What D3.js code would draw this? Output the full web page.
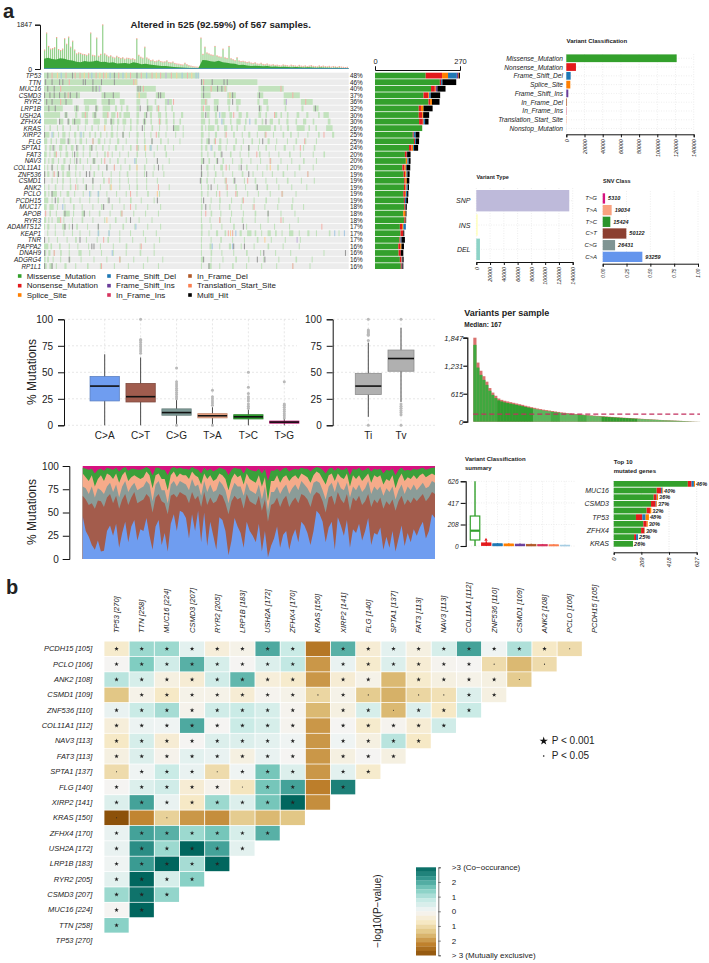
<!DOCTYPE html>
<html lang="en">
<head>
<meta charset="utf-8">
<title>Mutation landscape</title>
<script src="https://d3js.org/d3.v7.min.js"></script>
<style>
  body { margin: 0; background: #fff; }
  svg { display: block; }
  text { font-family: "Liberation Sans", Arial, sans-serif; fill: #222; }
</style>
</head>
<body>
<svg id="fig" width="709" height="963"></svg>
<script>
// ---- panel a: oncoplot data
const genes = ["TP53","TTN","MUC16","CSMD3","RYR2","LRP1B","USH2A","ZFHX4","KRAS","XIRP2","FLG","SPTA1","FAT3","NAV3","COL11A1","ZNF536","CSMD1","ANK2","PCLO","PCDH15","MUC17","APOB","RYR3","ADAMTS12","KEAP1","TNR","PAPPA2","DNAH9","ADGRG4","RP1L1"];
const genePct = [48,46,40,37,36,32,30,30,26,25,25,24,20,20,20,19,19,19,19,19,18,18,18,17,17,17,16,16,16,16];

const mutMissense = [161,206,178,154,170,139,139,140,150,120,124,108,95,98,87,91,93,92,90,92,93,89,93,79,81,78,74,75,79,82];
const mutNonsense = [52,4,12,15,5,7,11,12,0,3,3,8,6,0,7,5,4,5,5,3,3,1,3,7,9,3,6,7,5,3];
const mutSplice   = [19,0,3,3,6,8,3,2,0,0,0,5,0,5,4,4,4,3,3,0,0,7,1,4,0,0,4,0,1,0];
const mutFsDel    = [28,4,0,5,0,0,0,5,0,6,3,3,1,4,2,3,0,4,4,4,1,0,0,8,0,3,0,0,1,1];
const mutFsIns    = [4,0,5,0,0,0,0,0,0,0,0,0,0,0,0,0,0,0,0,0,0,0,0,0,0,0,0,0,1,1];
const mutInFrame  = [3,0,0,0,0,0,0,0,0,0,0,0,0,0,0,0,0,0,0,0,0,0,0,0,0,0,0,0,0,0];
const mutMulti    = [3,44,26,30,24,29,19,11,0,12,10,13,11,6,12,7,8,4,4,6,4,3,2,0,3,11,8,8,4,3];

// mutated stretches per gene: start sample, number of samples, ...
const oncoStretches = [
 [0,289],
 [0,174,292,105],
 [0,107,172,36,292,49,399,47],
 [0,67,107,34,172,19,208,17,292,18,341,16,397,11,446,30],
 [0,53,74,24,107,25,141,9,172,7,191,3,206,3,225,13,292,12,316,9,341,6,357,9,397,4,408,9,446,6,478,22],
 [0,35,56,9,76,8,95,6,109,14,132,4,143,3,153,4,172,5,191,11,209,6,225,3,237,3,292,4,300,9,316,8,343,3,358,4,399,6,414,4,448,3,479,4,501,10],
 [0,30,38,6,58,4,70,12,90,8,109,10,125,8,140,4,148,12,172,5,186,4,197,4,212,6,226,3,240,3,255,4,292,6,303,5,318,4,330,8,345,5,362,6,376,4,399,5,412,3,428,6,440,3,452,3,470,5,488,4,510,3,520,10],
 [0,24,30,6,44,4,52,16,76,6,92,12,112,5,123,8,136,4,146,7,160,3,172,4,184,6,198,3,213,5,226,4,240,3,252,3,292,8,306,3,318,6,332,4,346,3,358,8,374,3,392,4,405,3,420,6,436,3,451,4,468,3,482,6,500,3,528,5],
 [0,2,10,3,24,2,34,3,48,2,62,3,76,2,88,3,100,2,112,2,125,3,136,2,148,2,160,3,172,2,186,2,200,3,214,2,228,2,240,12,258,2,292,4,300,2,305,12,322,4,335,6,348,3,358,3,372,3,398,24,428,4,440,2,452,4,470,15,492,3,505,3,525,12],
 [0,10,16,3,26,2,34,6,46,2,56,4,66,2,72,3,84,3,94,3,104,3,116,2,124,5,135,2,146,3,158,2,172,4,186,2,198,2,212,3,226,2,244,2,258,2,292,5,306,2,318,4,336,2,352,3,368,2,380,4,396,2,410,3,426,2,444,3,458,3,472,2,490,2,510,3,536,4],
 [0,6,12,3,22,2,30,10,46,3,58,2,66,5,78,2,90,3,100,5,112,2,122,2,136,4,152,2,172,3,186,3,200,2,216,3,230,2,252,2,292,3,302,6,316,3,326,4,340,2,356,3,370,2,386,3,400,2,416,4,432,2,452,2,468,3,486,2,506,2],
 [2,3,10,4,18,3,28,6,40,3,50,5,62,2,72,3,84,6,96,2,108,3,120,2,132,4,146,2,160,3,172,5,186,2,196,4,210,2,224,3,240,2,292,3,300,4,312,2,324,6,338,2,352,4,366,2,380,3,398,2,412,3,430,2,446,4,464,2,482,2,502,3],
 [0,5,10,2,18,5,30,2,40,5,52,2,60,4,72,2,84,3,98,2,112,3,126,2,140,2,156,2,172,3,188,2,204,2,226,3,292,3,304,2,316,3,328,2,346,3,364,2,380,2,400,3,418,2,436,2,456,3,476,2,500,2,520,3],
 [0,3,8,2,14,5,26,2,36,4,48,2,56,2,66,3,80,2,90,6,106,2,122,2,136,3,150,2,170,3,190,2,210,2,232,2,292,6,306,3,320,2,332,3,350,2,366,3,384,2,402,2,420,3,440,2,460,2,482,3,506,2],
 [0,2,6,2,14,3,24,2,32,6,46,2,58,3,72,2,86,2,100,3,116,2,130,2,142,2,158,3,172,2,186,3,204,2,220,2,292,2,302,4,316,2,328,5,344,2,362,2,376,3,396,2,414,2,434,3,452,2,474,3,500,2],
 [1,2,6,4,16,2,24,2,34,3,42,7,58,2,66,2,78,2,92,3,108,2,124,2,140,2,154,3,172,2,186,2,202,2,222,2,292,3,304,2,318,3,332,2,350,2,368,3,388,2,406,2,424,2,444,3,466,2,490,2],
 [0,2,14,2,24,2,34,3,48,2,60,2,72,2,90,2,110,3,124,2,140,2,156,2,172,2,190,2,210,2,292,2,302,3,316,2,336,4,352,2,372,2,392,3,412,2,432,2,452,3,478,2,502,2],
 [0,2,8,2,20,3,34,2,48,3,62,2,76,3,90,2,104,2,122,3,140,2,158,2,172,3,190,2,212,2,232,2,292,2,304,3,322,2,338,2,356,3,374,2,394,2,414,3,436,2,460,2,488,2],
 [0,4,8,2,14,10,30,2,42,5,56,2,72,2,86,2,100,3,116,2,134,2,152,2,172,2,192,3,214,2,292,3,304,2,320,2,340,2,358,3,378,2,398,2,420,2,442,3,468,2],
 [0,8,14,2,24,4,36,2,48,3,66,2,84,2,100,2,118,2,140,2,160,3,180,2,204,2,292,2,310,2,326,3,348,2,368,2,390,2,412,3,436,2,462,2],
 [0,5,10,8,24,2,38,2,54,3,70,2,90,2,106,3,126,2,148,2,170,2,192,2,216,2,292,3,308,2,326,2,344,3,366,2,388,2,410,2,434,2,460,3,482,2],
 [2,2,10,3,22,2,36,12,54,2,70,6,84,2,102,3,122,2,142,4,166,2,188,2,212,2,292,2,310,3,328,2,348,2,370,2,392,3,416,2,440,2,466,2],
 [0,4,8,2,14,2,24,6,36,2,52,2,70,3,90,2,112,2,132,3,152,2,176,2,200,2,292,2,308,2,326,3,346,2,368,3,392,2,416,2,444,2,472,2],
 [0,2,6,4,20,2,34,6,46,2,60,3,80,2,100,2,122,2,146,3,168,2,192,2,216,2,292,3,310,2,330,2,352,3,376,2,402,2,428,2,456,2],
 [6,2,20,2,36,2,52,2,66,2,84,2,100,3,120,2,140,2,160,2,184,2,208,2,292,3,306,2,320,4,336,3,350,2,364,4,378,8,392,3,404,2,416,6,430,3,442,2,456,8,474,2,490,4,506,2,530,3,548,2],
 [0,2,8,2,24,2,42,2,58,3,78,2,98,2,118,3,140,2,164,2,188,2,214,2,292,2,310,2,328,3,350,2,372,2,396,3,422,2,448,2,476,2],
 [0,8,12,3,28,3,46,2,62,2,82,2,104,2,128,2,152,3,178,2,204,2,292,2,308,4,326,2,344,4,366,2,390,2,416,3,444,2,474,2],
 [0,4,8,4,18,2,30,3,46,2,64,6,84,2,106,2,128,2,152,2,178,3,204,2,292,2,310,3,330,2,352,2,376,3,402,2,430,2,458,2,520,2],
 [0,3,6,3,16,2,30,2,46,3,68,2,92,2,116,2,140,3,166,2,192,2,220,2,292,4,310,2,332,2,356,3,380,2,408,2,436,2,468,3,498,2],
 [0,5,10,6,22,2,38,4,58,2,80,3,104,2,130,2,156,2,184,2,212,2,292,2,306,6,326,2,350,3,376,2,404,2,432,2,462,2,494,2]
];
// coloured stripes: row, sample, class (0 nonsense, 1 splice, 2 fs del, 3 fs ins, 4 multi hit)
const oncoAccents = [[0,6,4],[0,14,0],[0,24,1],[0,31,2],[0,40,0],[0,52,4],[0,57,0],[0,66,0],[0,74,1],[0,82,0],[0,88,2],[0,96,0],[0,103,1],[0,110,0],[0,115,1],[0,122,2],[0,130,4],[0,138,0],[0,146,2],[0,152,1],[0,160,0],[0,172,4],[0,180,0],[0,190,2],[0,200,0],[0,208,1],[0,216,0],[0,226,3],[0,236,0],[0,246,1],[0,256,2],[0,266,0],[0,274,1],[0,282,2],[0,286,2],
[1,2,4],[1,14,4],[1,28,4],[1,34,4],[1,46,0],[1,72,4],[1,76,4],[1,90,4],[1,106,4],[1,130,4],[1,166,0],[1,170,1],[1,292,4],[1,296,0],[1,312,4],[1,334,4],[1,340,4],
[2,6,4],[2,18,4],[2,30,0],[2,90,4],[2,96,4],[2,102,3],[2,174,4],[2,178,4],[2,184,0],[2,296,4],[2,310,0],[2,322,4],[2,330,4],[2,336,0],[2,440,0],
[3,0,4],[3,10,4],[3,18,4],[3,28,4],[3,38,4],[3,44,0],[3,48,4],[3,60,4],[3,112,4],[3,128,4],[3,176,1],[3,212,4],[3,216,4],[3,296,4],[3,345,1],[3,350,4],[3,400,4],[3,462,0],
[4,4,4],[4,14,4],[4,30,0],[4,40,4],[4,120,4],[4,230,3],[4,240,0],[4,300,0],[4,350,4],[4,450,3],[4,486,0],
[5,8,4],[5,20,4],[5,60,4],[5,96,4],[5,178,4],[5,192,4],[5,212,0],[5,296,0],[5,322,4],[5,400,4],[5,504,4],
[6,40,4],[6,76,0],[6,94,4],[6,118,0],[6,136,0],[6,190,4],[6,300,4],[6,326,2],[6,352,0],[6,428,0],
[7,28,4],[7,44,4],[7,56,4],[7,124,4],[7,186,4],[7,214,0],[7,330,2],[7,382,2],[7,412,4],
[8,112,1],[8,182,4],[8,240,4],
[9,0,4],[9,14,2],[9,68,2],[9,146,4],[9,208,0],[9,338,0],[9,412,0],[9,520,0],
[10,44,4],[10,90,0],[10,200,4],[10,306,4],[10,318,0],[10,406,4],[10,484,0],
[11,16,4],[11,60,4],[11,88,4],[11,172,0],[11,188,1],[11,198,2],[11,310,2],[11,380,4],[11,476,0],
[12,22,0],[12,56,4],[12,118,0],[12,330,4],[12,395,0],
[13,60,4],[13,92,4],[13,112,0],[13,168,2],[13,210,4],[13,296,4],[13,322,4],[13,420,0],
[14,14,4],[14,46,4],[14,116,4],[14,130,0],[14,172,1],[14,212,4],[14,292,4],[14,338,0],[14,366,4],[14,420,1],
[15,0,4],[15,18,0],[15,26,4],[15,78,4],[15,84,4],[15,190,4],[15,292,4],[15,380,4],[15,490,0],
[16,0,4],[16,90,4],[16,120,0],[16,290,4],[16,338,0],[16,354,4],[16,378,0],
[17,58,0],[17,78,4],[17,124,1],[17,212,0],[17,310,4],[17,340,0],[17,396,4],
[18,14,4],[18,84,2],[18,100,2],[18,160,0],[18,210,1],[18,326,0],[18,356,0],[18,442,0],
[19,20,4],[19,120,4],[19,210,4],[19,296,4],[19,370,0],
[20,34,2],[20,110,4],[20,160,0],[20,300,4],[20,390,0],
[21,2,0],[21,38,4],[21,74,4],[21,144,0],[21,300,0],[21,416,4],
[22,30,0],[22,116,1],[22,160,4],[22,326,0],[22,440,0],
[23,38,4],[23,52,4],[23,100,4],[23,170,2],[23,370,4],[23,516,0],
[24,100,2],[24,120,2],[24,342,0],[24,346,1],[24,350,0],[24,356,2],[24,540,2],[24,558,2],
[25,0,4],[25,66,4],[25,110,0],[25,410,1],[25,470,3],
[26,88,4],[26,92,4],[26,180,0],[26,312,2],[26,350,2],[26,352,4],[26,372,4],
[27,0,4],[27,18,0],[27,126,2],[27,408,4],[27,560,4],
[28,46,4],[28,140,0],[28,296,4],[28,396,4],[28,410,4],
[29,0,4],[29,14,4],[29,106,0],[29,306,4],[29,462,0]];

// top bar of the oncoplot
const topPeak = [780,1490,930,820,840,880,1300,800,760,820,1250,1020,1320,900,1150,780,620,660,640,600,590,560,620,1490,560,540,1280,520,600,1830,620,560,500,540,480,450,520,470,430,460,400,440,430,400,420,380,1250,560,480,440,900,450,400,340,360,300,320,350,300,280,290,330,260,250,280,220,200,190,170,160,230,170,130,110,90,80,70,60,1280,600,900,660,620,580,560,930,540,500,480,820,460,430,930,420,380,340,460,330,300,310,290,260,280,240,220,250,200,190,230,180,170,200,160,150,170,140,150,130,120,160,140,130,110,150,130,120,100,140,110,100,120,90,110,130,100,90,80,120,90,110,90,80,100,70,90,80,60,90,70,60,50,60];
const topBody = [430,470,420,400,450,430,380,350,300,280,330,300,310,350,290,300,260,280,230,240,250,220,280,250,200,220,190,170,150,130,120,100,80,70,60,50,45,40,35,380,360,320,300,340,280,260,230,220,170,180,150,130,140,120,110,120,90,100,85,90,80,75,85,70,65,75,60,55,60,55,50,45,50,40,35,30];

const legendNames = [["Missense_Mutation","Nonsense_Mutation","Splice_Site"],["Frame_Shift_Del","Frame_Shift_Ins","In_Frame_Ins"],["In_Frame_Del","Translation_Start_Site","Multi_Hit"]];
const legendColors = [["#33a02c","#e31a1c","#ff7f00"],["#1f78b4","#6a3d9a","#d6335e"],["#b15928","#fb7f50","#000000"]];

// summary bars
const vcNames = ["Missense_Mutation","Nonsense_Mutation","Frame_Shift_Del","Splice_Site","Frame_Shift_Ins","In_Frame_Del","In_Frame_Ins","Translation_Start_Site","Nonstop_Mutation"];
const vcValues = [121300,10600,4800,4400,2200,800,400,300,150];
const vcColors = ["#33a02c","#e31a1c","#1f78b4","#ff7f00","#6a3d9a","#b15928","#d6335e","#fb7f50","#a6cee3"];
const vcTicks = [0,20000,40000,60000,80000,100000,120000,140000];

const vtNames = ["SNP","INS","DEL"];
const vtValues = [135000,1900,5300];
const vtColors = ["#bebada","#ffffb3","#8dd3c7"];

const snvNames = ["T>G","T>A","T>C","C>T","C>G","C>A"];
const snvFractions = [0.025,0.094,0.08,0.248,0.13,0.416];
const snvCounts = [5310,19034,15424,50122,26431,93259];
const snvColors = ["#d6127f","#f9a27f","#2a942a","#8c3f30","#7f9493","#6495ed"];

// boxplots
const boxNames = ["C>A","C>T","C>G","T>A","T>C","T>G"];
const boxColors = ["#6f9df0","#a05c4e","#7f9c98","#f0a888","#2e9e2e","#d6127f"];
const boxQ1 = [23,22,9.5,7,6,2];
const boxMedian = [37,27,12,9,8,3];
const boxQ3 = [46,39.5,15.5,11,10,4];
const boxLow = [0,0,1,0,0,0];
const boxHigh = [67,64,24,17,15,6];
const boxOutliers = [[],[68,70,72,74,76,78,80,81,100],[0,25,27,29,31,33,35,37,39,41,54],[0,19,21,23,25,27,33],[16,18,20,23,25,27,30,36,50],[7,9,11,13,15,17,19,20,41]];

const tiNames = ["Ti","Tv"];
const tiQ1 = [29,51];
const tiMedian = [37,63];
const tiQ3 = [49,71];
const tiLow = [8,22];
const tiHigh = [78,92];
const tiOutliers = [[0,80,85,86,87,88,89,90,100],[0,10,12,14,16,18,20,100]];

// per sample stacked spectrum, running tops of each layer
const caTop = [46,30,24,15,10,20,8,9,30,36,25,38,12,28,40,18,35,42,20,32,30,44,25,10,35,42,15,28,8,38,48,30,52,50,44,22,48,30,52,18,50,14,40,25,10,45,42,30,4,20,44,35,28,12,40,30,25,18,38,8,30,2,14,22,35,12,26,30,10,24,32,18,40,36,28,15,30,52,48,40,18,34,40,10,45,36,25,42,12,32,28,38,20,30,44,15,28,26,34,10,24,12,30,8,22,36,14,28,18,32,25,34,40,22,30,48,44];
const ctTop = [68,64,58,60,54,63,62,56,66,70,60,68,54,64,70,58,66,72,60,62,64,70,66,50,66,70,62,60,48,68,70,66,72,70,68,60,72,64,68,56,72,58,66,60,62,70,68,60,48,62,68,64,66,54,70,62,60,58,68,52,64,40,58,60,66,56,64,68,56,62,66,60,70,68,64,56,68,72,70,62,50,66,68,58,72,64,60,70,52,66,62,68,58,62,70,56,64,60,66,54,62,58,64,52,62,68,58,64,60,66,62,66,70,62,66,72,70];
const cgTop = [78,76,70,78,66,76,74,70,78,82,72,80,66,78,84,72,78,82,74,76,78,84,80,62,80,84,74,74,60,80,84,78,84,82,80,74,86,78,80,68,84,72,80,72,74,84,80,74,60,74,82,78,78,68,82,74,72,70,80,64,78,52,72,72,78,70,76,80,70,76,80,74,84,80,76,70,82,84,82,74,64,78,82,72,84,76,74,82,66,78,74,80,72,76,84,70,78,74,78,68,76,72,78,64,74,80,70,78,74,80,74,78,82,76,78,84,82];
const taTop = [92,88,84,90,78,86,90,84,92,90,86,92,82,90,94,84,88,90,88,86,88,94,90,76,90,92,86,86,74,90,94,88,92,90,90,86,94,90,88,80,92,86,90,84,86,92,90,86,74,86,92,88,90,80,92,86,84,82,90,78,88,62,84,84,90,82,88,90,84,88,90,86,92,90,88,82,90,94,92,86,80,90,92,84,92,88,86,92,78,90,86,90,84,88,92,82,90,88,90,80,86,84,90,76,86,92,84,88,86,90,86,90,92,88,90,92,90];
const tcTop = [98,97,96,97,92,96,97,95,98,97,96,98,94,97,99,95,97,97,96,96,97,99,97,90,98,98,96,96,90,97,99,97,98,97,97,96,99,97,96,92,98,95,97,94,96,98,97,96,90,96,98,97,97,92,98,96,95,94,97,92,97,84,95,95,97,94,97,98,94,96,97,96,98,97,97,94,97,99,98,96,92,97,98,95,98,96,96,98,90,97,96,98,95,96,98,94,97,96,97,92,96,95,97,90,96,98,95,96,95,97,96,97,98,96,97,98,98];

// variants per sample, sorted
const variantTotal = [1847,1300,1120,1000,880,740,640,570,510,480,460,445,430,415,400,385,370,350,335,320,305,290,278,265,255,245,235,225,215,205,198,190,182,176,170,165,158,152,146,140,135,130,125,120,115,110,105,100,96,92,88,84,80,76,72,68,64,60,56,52,48,44,40,36,33,30,27,24,21,18,15,12,9,6,4,2];
const variantMissense = [1690,1190,1030,920,810,680,590,520,470,445,425,410,398,384,370,356,342,324,310,296,282,268,257,245,236,227,217,208,199,190,183,176,168,163,157,153,146,141,135,130,125,120,116,111,106,102,97,93,89,85,81,78,74,70,67,63,59,55,52,48,44,41,37,33,30,28,25,22,19,17,14,11,8,5,3,2];
const variantTicks = [0,615,1231,1847];
const medianVariants = 167;

// variant classification summary
const vsQ1 = [58,5,2,2,2,1,1,1,1];
const vsMedian = [148,14,8,7,6,6,5,5,4];
const vsQ3 = [290,30,22,20,18,16,14,12,8];
const vsHigh = [626,45,28,26,24,22,20,18,12];
const vsTicks = [0,208,417,626];
const vsColors = ["#33a02c","#e31a1c","#1f78b4","#ff7f00","#6a3d9a","#b15928","#d6335e","#fb7f50","#a6cee3"];

// top 10 genes: missense, nonsense, blue, orange
const top10Names = ["TTN","MUC16","RYR2","CSMD3","LRP1B","TP53","USH2A","ZFHX4","XIRP2","KRAS"];
const top10Shown = [false,true,false,true,false,true,false,true,false,true];
const top10Pct = ["46%","40%","36%","37%","32%","48%","30%","30%","25%","26%"];
const top10Missense = [560,325,302,282,249,168,224,207,154,146];
const top10Nonsense = [28,33,22,35,25,48,25,23,15,0];
const top10Blue = [18,10,3,5,0,25,0,3,15,0];
const top10Orange = [8,5,8,5,10,25,8,3,0,0];
const top10Ticks = [0,209,418,627];

// ---- panel b: somatic interactions
const heatCols = ["TP53 [270]","TTN [258]","MUC16 [224]","CSMD3 [207]","RYR2 [205]","LRP1B [183]","USH2A [172]","ZFHX4 [170]","KRAS [150]","XIRP2 [141]","FLG [140]","SPTA1 [137]","FAT3 [113]","NAV3 [113]","COL11A1 [112]","ZNF536 [110]","CSMD1 [109]","ANK2 [108]","PCLO [106]","PCDH15 [105]"];
const heatRows = ["PCDH15 [105]","PCLO [106]","ANK2 [108]","CSMD1 [109]","ZNF536 [110]","COL11A1 [112]","NAV3 [113]","FAT3 [113]","SPTA1 [137]","FLG [140]","XIRP2 [141]","KRAS [150]","ZFHX4 [170]","USH2A [172]","LRP1B [183]","RYR2 [205]","CSMD3 [207]","MUC16 [224]","TTN [258]","TP53 [270]"];
const heatValues = [
 [-.6,1.2,1.2,.3,-.4,-.2,2,.7,-2.4,1.9,-.5,.3,-.3,.5,2.1,.1,1,-.7,-1],
 [-.05,1.5,.6,1.9,.5,-.05,.4,.8,-2,.2,-.6,.4,-.5,-.1,-.05,-1,-1.6,-1],
 [.9,.5,-.3,-.5,.6,1.8,-.4,-.6,-2,-.5,-.2,-1.6,-.6,-.3,-.2,-.3,-1.3],
 [-1.4,-.2,-.7,-.2,-.2,-.5,-.1,-.2,-1.1,-.2,-1.3,-1.7,-1.1,-.9,.4,-.3],
 [.2,.7,1.1,-.15,.6,.7,.5,-.1,-1.6,-.3,.5,-1.6,.4,-.7,.7],
 [-.4,.15,.1,2,-.05,.7,.5,-.1,-2,-.05,-.6,-.1,-.5,.6],
 [-.7,.5,-.5,-.05,.4,.4,.3,.1,-2,.1,-.3,.9,-.7],
 [-.3,.4,-.15,.3,.2,-.3,.2,-.05,-2,-.3,-.05,-.3],
 [-1,.1,.7,.2,-1,.1,1.6,.4,-2,.3,-.6],
 [-.05,.4,.6,-.5,-.15,-.8,1.6,2.1,-2.3,2.6],
 [.4,2.1,.2,-.7,1.2,.4,1.6,3.2,-2.1],
 [-3.2,-2.2,-1.2,-2,-2.1,-1.3,-1.6,-1.4],
 [.2,2.1,1.9,1.2,1.6,.5,1.9],
 [.2,2.4,1.2,3,2.1,.3],
 [.1,2.2,3,1.1,3],
 [.3,3,.5,1.4],
 [1.2,2.8,1.3],
 [-.05,3],
 [1.4],
 []
];
// * = P < 0.001, . = P < 0.05, blank = neither
const heatSig = [
 "******** *********.",
 "******** ******. .",
 "******** ** ****.",
 " *******.*. ..**",
 "******** **.***",
 "******** *****",
 "******** ****",
 "******** ***",
 ".***.*** **",
 "*****.** *",
 "******** ",
 ". .     ",
 "*******",
 "******",
 "*****",
 "****",
 "***",
 "**",
 "*",
 ""
];
const heatStops = [-3,-2.25,-1.5,-.75,0,.75,1.5,2.25,3];
const heatStopColors = ["#8c510a","#bf812d","#dfc27d","#f6e8c3","#f5f5f5","#c7eae5","#80cdc1","#35978f","#01665e"];
const cbarTicks = [3,2,1,0,-1,-2,-3];
const cbarLabels = [">3 (Co\u2212occurance)","2","1","0","1","2","> 3 (Mutually exclusive)"];
const cbarLevels = [3,2.7,2.4,2.1,1.8,1.5,1.2,.9,.6,.3,0,-.3,-.6,-.9,-1.2,-1.5,-1.8,-2.1,-2.4,-2.7];

// ---- drawing
const svg = d3.select("#fig");

function label(x, y, txt, size, opts) {
    opts = opts || {};
    return svg.append("text").attr("x", x).attr("y", y).text(txt)
        .style("font-size", size + "px")
        .style("font-weight", opts.bold ? "bold" : null)
        .style("font-style", opts.italic ? "italic" : null)
        .attr("text-anchor", opts.anchor || "start")
        .attr("dominant-baseline", "central");
}
function cleanAxis(g, size, width, italic) {
    g.selectAll("path.domain").attr("stroke", "#111").attr("stroke-width", width);
    g.selectAll(".tick line").attr("stroke", "#111").attr("stroke-width", width);
    g.selectAll("text").style("font-size", size + "px").style("font-family", '"Liberation Sans", Arial, sans-serif')
        .style("font-style", italic ? "italic" : null).attr("fill", "#222");
}
function rotateTicks(g) {
    g.selectAll("text").attr("transform", "rotate(-90)").attr("text-anchor", "end")
        .attr("x", -5).attr("y", 0).attr("dy", "0.32em");
}

label(3, 10.6, "a", 20, {bold: true});
label(6, 586.6, "b", 20, {bold: true});
label(130.5, 24, "Altered in 525 (92.59%) of 567 samples.", 9.7, {bold: true});

// top bar
const topX = d3.scaleBand().domain(d3.range(topPeak.length)).range([44, 348.7]);
const topBX = d3.scalePoint().domain(d3.range(topBody.length)).range([44, 348.7]);
const topY = d3.scaleLinear().domain([0, 1847]).range([69, 24.7]);
svg.append("g").selectAll("rect").data(topPeak).enter().append("rect")
    .attr("x", (d, i) => topX(i)).attr("width", topX.bandwidth() * .6)
    .attr("y", d => topY(d)).attr("height", d => topY(0) - topY(d)).attr("fill", "#93d08b");
svg.append("g").selectAll("rect").data(topPeak).enter().append("rect")
    .attr("x", (d, i) => topX(i)).attr("width", topX.bandwidth() * .6)
    .attr("y", d => topY(d) - .8).attr("height", 1.1).attr("fill", "#f4a08c");
svg.append("path").datum(topBody)
    .attr("d", d3.area().x((d, i) => topBX(i)).y0(topY(0)).y1(d => topY(d)))
    .attr("fill", "#3aa53a");
svg.append("rect").attr("x", 44).attr("width", 304.7).attr("y", 68.2).attr("height", .8).attr("fill", "#4f8fc0");
svg.append("g").attr("transform", "translate(40,0)")
    .call(d3.axisLeft(topY).tickValues([0, 1847]).tickSize(5).tickFormat(d3.format("d")))
    .call(cleanAxis, 6.9, 1, false);

// oncoplot
const onX = d3.scaleLinear().domain([0, 567]).range([44, 348.7]);
const onY = d3.scaleBand().domain(genes).range([72.7, 269]).paddingInner(.12);
const accentCols = ["#f4b3ac", "#fbd09c", "#a7c8e2", "#c4b2dc", "#9a9a9a"];
const onco = svg.append("g");
genes.forEach((g, r) => {
    onco.append("rect").attr("x", onX(0)).attr("width", onX(567) - onX(0)).attr("y", onY(g)).attr("height", onY.bandwidth()).attr("fill", "#ececec");
    const st = oncoStretches[r];
    for (let i = 0; i < st.length; i += 2) {
        onco.append("rect").attr("x", onX(st[i])).attr("width", onX(st[i + 1]) - onX(0))
            .attr("y", onY(g)).attr("height", onY.bandwidth()).attr("fill", "#c2e2bd");
    }
    label(41, onY(g) + onY.bandwidth() / 2, g, 6.4, {italic: true, anchor: "end"});
    label(350, onY(g) + onY.bandwidth() / 2, genePct[r] + "%", 6.4);
});
onco.selectAll("rect.acc").data(oncoAccents).enter().append("rect").attr("class", "acc")
    .attr("x", d => onX(d[1])).attr("width", d => onX(2) - onX(0))
    .attr("y", d => onY(genes[d[0]])).attr("height", onY.bandwidth())
    .attr("fill", d => accentCols[d[2]]);

// gene stack on the right
const stackKeys = ["missense","nonsense","splice","fsdel","fsins","inframe","multi"];
const stackCols = ["#33a02c","#e31a1c","#ff7f00","#1f78b4","#6a3d9a","#b15928","#000000"];
const stackTable = genes.map((g, i) => ({gene: g, missense: mutMissense[i], nonsense: mutNonsense[i], splice: mutSplice[i], fsdel: mutFsDel[i], fsins: mutFsIns[i], inframe: mutInFrame[i], multi: mutMulti[i]}));
const geneX = d3.scaleLinear().domain([0, 270]).range([375, 460]);
svg.append("g").selectAll("g").data(d3.stack().keys(stackKeys)(stackTable)).enter().append("g")
    .attr("fill", (d, i) => stackCols[i])
    .selectAll("rect").data(d => d).enter().append("rect")
    .attr("x", d => geneX(d[0])).attr("width", d => geneX(d[1]) - geneX(d[0]))
    .attr("y", d => onY(d.data.gene)).attr("height", onY.bandwidth());
svg.append("g").attr("transform", "translate(0,70)")
    .call(d3.axisTop(geneX).tickValues([0, 270]).tickSize(3.5).tickPadding(3))
    .call(cleanAxis, 7.5, 1, false);

// oncoplot legend
legendNames.forEach((col, c) => col.forEach((n, r) => {
    const sx = [19.7, 109, 190][c], sy = [276, 285.7, 295][r];
    svg.append("rect").attr("x", sx - 1.8).attr("y", sy - 1.8).attr("width", 3.6).attr("height", 3.6).attr("fill", legendColors[c][r]);
    label(sx + 7, sy, n, 8);
}));

// variant classification
label(566.5, 40.5, "Variant Classification", 6, {bold: true});
const vcX = d3.scaleLinear().domain([0, 140000]).range([566.3, 693.7]);
const vcY = d3.scaleBand().domain(vcNames).range([54.4, 132.4]).paddingInner(.12);
vcTicks.forEach(t => svg.append("line").attr("x1", vcX(t)).attr("x2", vcX(t)).attr("y1", 54).attr("y2", 134).attr("stroke", "#ddd").attr("stroke-width", .5).attr("stroke-dasharray", "1 1.5"));
vcNames.forEach(n => svg.append("line").attr("x1", 566).attr("x2", 693.7).attr("y1", vcY(n) + vcY.bandwidth() / 2).attr("y2", vcY(n) + vcY.bandwidth() / 2).attr("stroke", "#ddd").attr("stroke-width", .5).attr("stroke-dasharray", "1 1.5"));
svg.append("g").selectAll("rect").data(vcValues).enter().append("rect")
    .attr("x", vcX(0)).attr("y", (d, i) => vcY(vcNames[i])).attr("height", vcY.bandwidth())
    .attr("width", d => vcX(d) - vcX(0)).attr("fill", (d, i) => vcColors[i]);
vcNames.forEach(n => label(563, vcY(n) + vcY.bandwidth() / 2, n, 6.6, {italic: true, anchor: "end"}));
svg.append("g").attr("transform", "translate(0,134.3)")
    .call(d3.axisBottom(vcX).tickValues(vcTicks).tickSize(3).tickFormat(d3.format("d")))
    .call(cleanAxis, 5.3, 1, true).call(rotateTicks);

// variant type
label(476.5, 177, "Variant Type", 5.5, {bold: true});
const vtX = d3.scaleLinear().domain([0, 140000]).range([476.3, 572.7]);
const vtY = d3.scaleBand().domain(vtNames).range([190, 260]).paddingInner(.12);
vcTicks.forEach(t => svg.append("line").attr("x1", vtX(t)).attr("x2", vtX(t)).attr("y1", 188).attr("y2", 262).attr("stroke", "#ddd").attr("stroke-width", .5).attr("stroke-dasharray", "1 1.5"));
vtNames.forEach(n => svg.append("line").attr("x1", 476).attr("x2", 572.7).attr("y1", vtY(n) + vtY.bandwidth() / 2).attr("y2", vtY(n) + vtY.bandwidth() / 2).attr("stroke", "#ddd").attr("stroke-width", .5).attr("stroke-dasharray", "1 1.5"));
svg.append("g").selectAll("rect").data(vtValues).enter().append("rect")
    .attr("x", vtX(0)).attr("y", (d, i) => vtY(vtNames[i])).attr("height", vtY.bandwidth())
    .attr("width", d => vtX(d) - vtX(0)).attr("fill", (d, i) => vtColors[i]);
vtNames.forEach(n => label(470.5, vtY(n) + vtY.bandwidth() / 2, n, 7, {italic: true, anchor: "end"}));
svg.append("g").attr("transform", "translate(0,262)")
    .call(d3.axisBottom(vtX).tickValues(vcTicks).tickSize(3).tickFormat(d3.format("d")))
    .call(cleanAxis, 5.3, 1, true).call(rotateTicks);

// snv class
label(603, 181, "SNV Class", 5.5, {bold: true});
const snvX = d3.scaleLinear().domain([0, 1]).range([602.7, 698]);
const snvY = d3.scaleBand().domain(snvNames).range([193.3, 262]).paddingInner(.12);
[0, .25, .5, .75, 1].forEach(t => svg.append("line").attr("x1", snvX(t)).attr("x2", snvX(t)).attr("y1", 191).attr("y2", 263.7).attr("stroke", "#ddd").attr("stroke-width", .5).attr("stroke-dasharray", "1 1.5"));
svg.append("g").selectAll("rect").data(snvFractions).enter().append("rect")
    .attr("x", snvX(0)).attr("y", (d, i) => snvY(snvNames[i])).attr("height", snvY.bandwidth())
    .attr("width", d => snvX(d) - snvX(0)).attr("fill", (d, i) => snvColors[i]);
snvNames.forEach((n, i) => {
    const cy = snvY(n) + snvY.bandwidth() / 2;
    label(597, cy, n, 6, {italic: true, anchor: "end"});
    label(snvX(snvFractions[i]) + 3, cy, snvCounts[i], 5.5, {italic: true, bold: true});
});
svg.append("g").attr("transform", "translate(0,263.7)")
    .call(d3.axisBottom(snvX).tickValues([0, .25, .5, .75, 1]).tickSize(3).tickFormat(d3.format(".2f")))
    .call(cleanAxis, 4.6, 1, true).call(rotateTicks);

// boxplot helper
function boxes(names, q1, med, q3, lo, hi, outs, colors, xs, bw, yScale) {
    names.forEach((n, i) => {
        const x = xs(n);
        svg.append("line").attr("x1", x).attr("x2", x).attr("y1", yScale(lo[i])).attr("y2", yScale(hi[i])).attr("stroke", "#4a4a4a").attr("stroke-width", 1);
        svg.append("g").selectAll("circle").data(outs[i]).enter().append("circle")
            .attr("cx", x).attr("cy", d => yScale(d)).attr("r", 1.5).attr("fill", "#b9b9b9");
        svg.append("rect").attr("x", x - bw / 2).attr("width", bw).attr("y", yScale(q3[i])).attr("height", yScale(q1[i]) - yScale(q3[i]))
            .attr("fill", colors[i]).attr("stroke", d3.color(colors[i]).darker(.6)).attr("stroke-width", .8);
        svg.append("line").attr("x1", x - bw / 2).attr("x2", x + bw / 2).attr("y1", yScale(med[i])).attr("y2", yScale(med[i])).attr("stroke", "#111").attr("stroke-width", 1.6);
        label(x, 435.8, n, 10, {anchor: "middle"});
    });
}
const boxY = d3.scaleLinear().domain([0, 100]).range([425.3, 319.3]);
const boxX = d3.scalePoint().domain(boxNames).range([104.7, 284.3]);
const tiX = d3.scalePoint().domain(tiNames).range([368.3, 401]);
[[64, 297, boxNames, boxX], [333, 437, tiNames, tiX]].forEach(p => {
    [0, 25, 50, 75, 100].forEach(t => svg.append("line").attr("x1", p[0]).attr("x2", p[1]).attr("y1", boxY(t)).attr("y2", boxY(t)).attr("stroke", "#ddd").attr("stroke-dasharray", "2 2").attr("stroke-width", .7));
    p[2].forEach(n => svg.append("line").attr("x1", p[3](n)).attr("x2", p[3](n)).attr("y1", 319.3).attr("y2", 425.3).attr("stroke", "#ddd").attr("stroke-dasharray", "2 2").attr("stroke-width", .7));
});
boxes(boxNames, boxQ1, boxMedian, boxQ3, boxLow, boxHigh, boxOutliers, boxColors, boxX, 29.3, boxY);
boxes(tiNames, tiQ1, tiMedian, tiQ3, tiLow, tiHigh, tiOutliers, ["#b0b0b0", "#b0b0b0"], tiX, 26, boxY);
svg.append("g").attr("transform", "translate(64,0)")
    .call(d3.axisLeft(boxY).tickValues([0, 25, 50, 75, 100]).tickSize(6).tickPadding(5)).call(cleanAxis, 10, 1, false);
svg.append("g").attr("transform", "translate(332.7,0)")
    .call(d3.axisLeft(boxY).tickValues([0, 25, 50, 75, 100]).tickSize(6).tickPadding(5)).call(cleanAxis, 10, 1, false);
label(0, 0, "% Mutations", 12, {anchor: "middle"}).attr("x", null).attr("y", null).attr("transform", "translate(32,372) rotate(-90)");

// per sample spectrum, drawn back to front
const specY = d3.scaleLinear().domain([0, 100]).range([559, 466]);
const specX = d3.scalePoint().domain(d3.range(caTop.length)).range([82.7, 435]);
svg.append("rect").attr("x", 82.7).attr("width", 352.3).attr("y", specY(100)).attr("height", specY(0) - specY(100)).attr("fill", "#d6127f");
[[tcTop, "#3aa03a"], [taTop, "#f6ab8a"], [cgTop, "#8b9c98"], [ctTop, "#a35c4c"], [caTop, "#6f9df0"]].forEach(l => {
    svg.append("path").datum(l[0]).attr("fill", l[1])
        .attr("d", d3.area().x((d, i) => specX(i)).y0(specY(0)).y1(d => specY(d)));
});
svg.append("g").attr("transform", "translate(69.3,0)")
    .call(d3.axisLeft(specY).tickValues([0, 25, 50, 75, 100]).tickSize(6.5).tickPadding(4)).call(cleanAxis, 10, 1, false);
label(0, 0, "% Mutations", 12, {anchor: "middle"}).attr("x", null).attr("y", null).attr("transform", "translate(32,512) rotate(-90)");

// variants per sample
label(464.3, 313, "Variants per sample", 9, {bold: true});
label(464.3, 324.5, "Median: 167", 6.5, {bold: true});
const vpX = d3.scaleBand().domain(d3.range(variantTotal.length)).range([473.3, 700]);
const vpY = d3.scaleLinear().domain([0, 1847]).range([421.7, 337.7]);
const vpShade = i => i < 8 ? "#3fa83f" : i < 20 ? "#2f9e2f" : i < 26 ? "#5cb55c" : i < 29 ? "#45ab45" : i < 35 ? "#62b862" : i < 38 ? "#45ab45" : i < 43 ? "#62b862" : i < 55 ? "#2f9e2f" : "#66ba66";
svg.append("g").attr("fill", "#d9726e").selectAll("rect").data(variantTotal).enter().append("rect")
    .attr("x", (d, i) => vpX(i)).attr("width", vpX.bandwidth() + .2).attr("y", d => vpY(d)).attr("height", d => vpY(0) - vpY(d));
svg.append("g").selectAll("rect").data(variantMissense).enter().append("rect")
    .attr("x", (d, i) => vpX(i)).attr("width", vpX.bandwidth() + .2).attr("y", d => vpY(d)).attr("height", d => vpY(0) - vpY(d))
    .attr("fill", (d, i) => vpShade(i));
svg.append("line").attr("x1", 473.3).attr("x2", 700).attr("y1", vpY(medianVariants)).attr("y2", vpY(medianVariants))
    .attr("stroke", "#c2315f").attr("stroke-width", 1.2).attr("stroke-dasharray", "5 3");
svg.append("g").attr("transform", "translate(467.3,0)")
    .call(d3.axisLeft(vpY).tickValues(variantTicks).tickSize(4).tickPadding(0)).call(cleanAxis, 7.6, 1.2, true);

// variant classification summary
label(465, 458.7, "Variant Classification", 6, {bold: true});
label(465, 467.7, "summary", 6, {bold: true});
const vsY = d3.scaleLinear().domain([0, 626]).range([546, 481.3]);
const vsX = d3.scaleBand().domain(d3.range(9)).range([469.4, 570.6]);
vsTicks.forEach(t => svg.append("line").attr("x1", 466).attr("x2", 575.7).attr("y1", vsY(t)).attr("y2", vsY(t)).attr("stroke", "#ddd").attr("stroke-width", .5).attr("stroke-dasharray", "1 1.5"));
d3.range(9).forEach(i => {
    const cx = vsX(i) + vsX.bandwidth() / 2, bw = 9.5;
    svg.append("line").attr("x1", cx).attr("x2", cx).attr("y1", 481.3).attr("y2", 548).attr("stroke", "#ddd").attr("stroke-width", .5).attr("stroke-dasharray", "1 1.5");
    svg.append("line").attr("x1", cx).attr("x2", cx).attr("y1", vsY(0)).attr("y2", vsY(vsHigh[i])).attr("stroke", vsColors[i]).attr("stroke-width", 1.4);
    svg.append("rect").attr("x", cx - bw / 2).attr("width", bw).attr("y", vsY(vsQ3[i])).attr("height", vsY(vsQ1[i]) - vsY(vsQ3[i]))
        .attr("fill", i == 0 ? "#fff" : vsColors[i]).attr("stroke", vsColors[i]).attr("stroke-width", i == 0 ? 1.2 : .8);
    svg.append("line").attr("x1", cx - bw / 2).attr("x2", cx + bw / 2).attr("y1", vsY(vsMedian[i])).attr("y2", vsY(vsMedian[i])).attr("stroke", vsColors[i]).attr("stroke-width", i == 0 ? 2.2 : 1);
});
svg.append("path").attr("d", d3.symbol().type(d3.symbolTriangle).size(5)()).attr("fill", "#e31a1c").attr("transform", `translate(486,${vsY(60)})`);
svg.append("g").attr("transform", "translate(465.7,0)")
    .call(d3.axisLeft(vsY).tickValues(vsTicks).tickSize(5).tickPadding(2)).call(cleanAxis, 6.6, 1.1, true);

// top 10 mutated genes
label(613.7, 461.7, "Top 10", 6, {bold: true});
label(613.7, 470.7, "mutated genes", 6, {bold: true});
const t10X = d3.scaleLinear().domain([0, 627]).range([613.7, 696.7]);
const t10Y = d3.scaleBand().domain(top10Names).range([481, 546.7]).paddingInner(.14);
top10Ticks.forEach(t => svg.append("line").attr("x1", t10X(t)).attr("x2", t10X(t)).attr("y1", 481).attr("y2", 552).attr("stroke", "#ccc").attr("stroke-width", .5).attr("stroke-dasharray", "1 1.5"));
const t10Table = top10Names.map((g, i) => ({gene: g, a: top10Missense[i], b: top10Nonsense[i], c: top10Blue[i], d: top10Orange[i]}));
svg.append("g").selectAll("g").data(d3.stack().keys(["a","b","c","d"])(t10Table)).enter().append("g")
    .attr("fill", (d, i) => ["#33a02c", "#e31a1c", "#1f78b4", "#ff7f00"][i])
    .selectAll("rect").data(d => d).enter().append("rect")
    .attr("x", d => t10X(d[0])).attr("width", d => t10X(d[1]) - t10X(d[0]))
    .attr("y", d => t10Y(d.data.gene)).attr("height", t10Y.bandwidth());
top10Names.forEach((g, i) => {
    const cy = t10Y(g) + t10Y.bandwidth() / 2;
    const total = top10Missense[i] + top10Nonsense[i] + top10Blue[i] + top10Orange[i];
    if (top10Shown[i]) label(609, cy, g, 7, {italic: true, anchor: "end"});
    label(t10X(total) + 1, cy, top10Pct[i], 5.6, {italic: true, bold: true});
});
svg.append("g").attr("transform", "translate(0,552.3)")
    .call(d3.axisBottom(t10X).tickValues(top10Ticks).tickSize(2.5)).call(cleanAxis, 6, 1, true).call(rotateTicks);

// interaction heatmap
const heatColor = d3.scaleLinear().domain(heatStops).range(heatStopColors).clamp(true);
const hX = d3.scaleBand().domain(heatCols).range([104.4, 607]).paddingInner(.035);
const hY = d3.scaleBand().domain(heatRows).range([641.5, 948]).paddingInner(.05);
const star = d3.symbol().type(d3.symbolStar).size(6.5)();
heatRows.forEach((rn, r) => {
    const cy = hY(rn) + hY.bandwidth() / 2;
    label(92.3, cy, rn, 7.5, {italic: true, anchor: "end"});
    heatValues[r].forEach((v, c) => {
        const x = hX(heatCols[c]);
        svg.append("rect").attr("x", x).attr("y", hY(rn)).attr("width", hX.bandwidth()).attr("height", hY.bandwidth()).attr("fill", heatColor(v));
        const s = heatSig[r][c], cx = x + hX.bandwidth() / 2;
        if (s == "*") svg.append("path").attr("d", star).attr("transform", `translate(${cx},${cy})`).attr("fill", "#222");
        if (s == ".") svg.append("circle").attr("cx", cx).attr("cy", cy).attr("r", .55).attr("fill", "#222");
    });
});
heatCols.forEach(cn => {
    svg.append("text").text(cn)
        .attr("transform", `translate(${hX(cn) + hX.bandwidth() / 2},633) rotate(-90)`)
        .attr("dominant-baseline", "central").style("font-size", "7.5px").style("font-style", "italic");
});

// significance key
svg.append("path").attr("d", d3.symbol().type(d3.symbolStar).size(22)()).attr("transform", "translate(543.7,741)").attr("fill", "#111");
label(551.7, 740, "P < 0.001", 10);
svg.append("circle").attr("cx", 543.7).attr("cy", 756).attr("r", .8).attr("fill", "#111");
label(551.7, 755.7, "P < 0.05", 10);

// colour bar
const cbarY = d3.scaleLinear().domain([-3, 3]).range([955.3, 867.3]);
svg.append("g").selectAll("rect").data(cbarLevels).enter().append("rect")
    .attr("x", 416).attr("width", 20).attr("y", d => cbarY(d)).attr("height", cbarY(0) - cbarY(.3) + .2)
    .attr("fill", d => heatColor(d - .15));
const cbarAxis = svg.append("g").attr("transform", "translate(438.3,0)")
    .call(d3.axisRight(cbarY).tickValues(cbarTicks).tickSize(2.5).tickPadding(11).tickFormat((d, i) => cbarLabels[i]))
    .call(cleanAxis, 8, .7, false);
cbarAxis.selectAll("path.domain, .tick line").attr("stroke", "#444");
label(0, 0, "\u2212log10(P\u2212value)", 10, {anchor: "middle"}).attr("x", null).attr("y", null).attr("transform", "translate(377,911) rotate(-90)");
</script>
</body>
</html>
